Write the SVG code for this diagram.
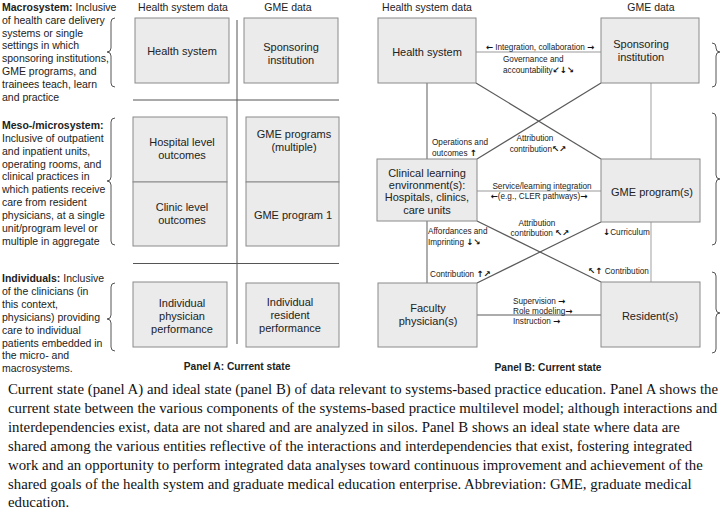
<svg xmlns="http://www.w3.org/2000/svg" width="726" height="515" viewBox="0 0 726 515">
<style>
text{font-family:"Liberation Sans",Arial,"DejaVu Sans",sans-serif;fill:#222}
.lt{font-size:10.5px}
.b{font-weight:bold}
.hd{font-size:10.5px;text-anchor:middle}
.bl{font-size:11px;text-anchor:middle}
.sm{font-size:8.2px;fill:#333}
.ar{font-family:"DejaVu Sans",sans-serif;font-weight:bold;font-size:8.6px;fill:#111}
.mid{text-anchor:middle}
.pl{font-size:10.2px;font-weight:bold;text-anchor:middle}
.cap{font-family:"Liberation Serif","Times New Roman",serif;font-size:14.8px;fill:#111}
.bx{fill:#ebebeb;stroke:#8a8a8a;stroke-width:1}
.dv{stroke:#555;stroke-width:1;fill:none}
.br{stroke:#555;stroke-width:1;fill:none}
.ln{stroke:#5a5a5a;stroke-width:1.2;fill:none}
.lv{stroke:#777;stroke-width:1.2;fill:none}
.lr{stroke:#b0b0b0;stroke-width:1.2;fill:none}
.lh{stroke:#999;stroke-width:1;fill:none}
</style>

<!-- Left descriptive text -->
<g id="left-text" class="lt">
<text x="2" y="11"><tspan class="b">Macrosystem:</tspan> Inclusive</text>
<text x="2" y="23.8">of health care delivery</text>
<text x="2" y="36.6">systems or single</text>
<text x="2" y="49.4">settings in which</text>
<text x="2" y="62.2">sponsoring institutions,</text>
<text x="2" y="75">GME programs, and</text>
<text x="2" y="87.8">trainees teach, learn</text>
<text x="2" y="100.6">and practice</text>

<text x="2" y="129"><tspan class="b">Meso-/microsystem:</tspan></text>
<text x="2" y="141.9">Inclusive of outpatient</text>
<text x="2" y="154.7">and inpatient units,</text>
<text x="2" y="167.6">operating rooms, and</text>
<text x="2" y="180.4">clinical practices in</text>
<text x="2" y="193.3">which patients receive</text>
<text x="2" y="206.1">care from resident</text>
<text x="2" y="219">physicians, at a single</text>
<text x="2" y="231.8">unit/program level or</text>
<text x="2" y="244.7">multiple in aggregate</text>

<text x="2" y="282.3"><tspan class="b">Individuals:</tspan> Inclusive</text>
<text x="2" y="295.2">of the clinicians (in</text>
<text x="2" y="308">this context,</text>
<text x="2" y="320.9">physicians) providing</text>
<text x="2" y="333.7">care to individual</text>
<text x="2" y="346.6">patients embedded in</text>
<text x="2" y="359.4">the micro- and</text>
<text x="2" y="372.3">macrosystems.</text>
</g>

<!-- Braces -->
<g id="braces">
<path class="br" d="M115,18 Q111,18 111,22 L111,48 Q111,52 107,52 Q111,52 111,56 L111,83 Q111,87 115,87"/>
<path class="br" d="M115,118 Q111,118 111,122 L111,177 Q111,181 107,181 Q111,181 111,185 L111,241 Q111,245 115,245"/>
<path class="br" d="M115,283 Q111,283 111,287 L111,315 Q111,319 107,319 Q111,319 111,323 L111,347 Q111,351 115,351"/>
<path class="br" d="M712,43 Q716,43 716,47 L716,48 Q716,52 720,52 Q716,52 716,56 L716,83 Q716,87 712,87"/>
<path class="br" d="M712,113 Q716,113 716,117 L716,175 Q716,179 720,179 Q716,179 716,183 L716,241 Q716,245 712,245"/>
<path class="br" d="M712,272 Q716,272 716,276 L716,309 Q716,313 720,313 Q716,313 716,317 L716,349 Q716,353 712,353"/>
</g>

<!-- Panel A -->
<g id="panelA-headers">
<text class="hd" x="183" y="11">Health system data</text>
<text class="hd" x="288" y="11">GME data</text>
</g>
<g id="panelA-dividers">
<line class="dv" x1="237" y1="20" x2="237" y2="344"/>
<line class="dv" x1="133" y1="100" x2="339" y2="100"/>
<line class="dv" x1="133" y1="263.5" x2="339" y2="263.5"/>
</g>
<g id="a-health-system">
<rect class="bx" x="135" y="18" width="94" height="65"/>
<text class="bl" x="182" y="55">Health system</text>
</g>
<g id="a-sponsoring">
<rect class="bx" x="244" y="18" width="94" height="65"/>
<text class="bl" x="291" y="50.5">Sponsoring</text>
<text class="bl" x="291" y="63.5">institution</text>
</g>
<g id="a-hospital-level">
<rect class="bx" x="133" y="117" width="94" height="65"/>
<text class="bl" x="182" y="146">Hospital level</text>
<text class="bl" x="182" y="158.8">outcomes</text>
</g>
<g id="a-clinic-level">
<rect class="bx" x="133" y="182" width="94" height="64"/>
<text class="bl" x="182" y="211">Clinic level</text>
<text class="bl" x="182" y="223.8">outcomes</text>
</g>
<g id="a-gme-programs">
<rect class="bx" x="246" y="117" width="93" height="65"/>
<text class="bl" x="294" y="138">GME programs</text>
<text class="bl" x="294" y="150.6">(multiple)</text>
</g>
<g id="a-gme-program-1">
<rect class="bx" x="246" y="182" width="93" height="64"/>
<text class="bl" x="293" y="219">GME program 1</text>
</g>
<g id="a-individual-physician">
<rect class="bx" x="133" y="282" width="94" height="65"/>
<text class="bl" x="182" y="307">Individual</text>
<text class="bl" x="182" y="319.8">physician</text>
<text class="bl" x="182" y="332.6">performance</text>
</g>
<g id="a-individual-resident">
<rect class="bx" x="246" y="283" width="93" height="64"/>
<text class="bl" x="290" y="306">Individual</text>
<text class="bl" x="290" y="318.8">resident</text>
<text class="bl" x="290" y="331.6">performance</text>
</g>
<text class="pl" x="237" y="370">Panel A: Current state</text>

<!-- Panel B -->
<g id="panelB-headers">
<text class="hd" x="427" y="11">Health system data</text>
<text class="hd" x="651" y="11">GME data</text>
</g>

<g id="connectors">
<line class="lh" x1="476" y1="52" x2="601" y2="52"/>
<line class="lh" x1="477" y1="191" x2="601" y2="191"/>
<line class="ln" x1="477" y1="315" x2="601" y2="315"/>
<line class="lv" x1="427" y1="83" x2="427" y2="159"/>
<line class="lv" x1="427" y1="221" x2="427" y2="283"/>
<line class="lr" x1="651" y1="83" x2="651" y2="159"/>
<line class="lr" x1="651" y1="222" x2="651" y2="282"/>
<line class="ln" x1="476" y1="83" x2="601" y2="159"/>
<line class="ln" x1="601" y1="83" x2="477" y2="159"/>
<line class="ln" x1="477" y1="221" x2="601" y2="282"/>
<line class="ln" x1="601" y1="222" x2="477" y2="283"/>
</g>

<g id="connector-labels" class="sm">
<text class="mid" x="540" y="50"><tspan class="ar">←</tspan> Integration, collaboration <tspan class="ar">→</tspan></text>
<text x="503" y="62">Governance and</text>
<text x="503" y="73">accountability<tspan class="ar">↙↓↘</tspan></text>
<text x="432" y="145">Operations and</text>
<text x="432" y="155.5">outcomes <tspan class="ar">↑</tspan></text>
<text class="mid" x="535" y="141">Attribution</text>
<text class="mid" x="538" y="151.5">contribution<tspan class="ar">↖↗</tspan></text>
<text class="mid" x="542" y="189">Service/learning integration</text>
<text class="mid" x="539" y="199"><tspan class="ar">←</tspan>(e.g., CLER pathways)<tspan class="ar">→</tspan></text>
<text class="mid" x="537" y="225.5">Attribution</text>
<text class="mid" x="540" y="235.5">contribution <tspan class="ar">↖↗</tspan></text>
<text x="428" y="234">Affordances and</text>
<text x="428" y="244.5">Imprinting <tspan class="ar">↓↘</tspan></text>
<text x="603" y="235"><tspan class="ar">↓</tspan>Curriculum</text>
<text x="430" y="277">Contribution <tspan class="ar">↑↗</tspan></text>
<text x="588" y="274"><tspan class="ar">↖↑</tspan> Contribution</text>
<text x="513" y="304">Supervision <tspan class="ar">→</tspan></text>
<text x="513" y="314">Role modeling<tspan class="ar">→</tspan></text>
<text x="513" y="324">Instruction <tspan class="ar">→</tspan></text>
</g>

<g id="b-health-system">
<rect class="bx" x="378" y="18" width="98" height="65"/>
<text class="bl" x="427" y="56">Health system</text>
</g>
<g id="b-sponsoring">
<rect class="bx" x="601" y="18" width="98" height="65"/>
<text class="bl" x="641" y="48">Sponsoring</text>
<text class="bl" x="641" y="60.5">institution</text>
</g>
<g id="b-clinical-learning">
<rect class="bx" x="377" y="159" width="100" height="62"/>
<text class="bl" x="427" y="176.5">Clinical learning</text>
<text class="bl" x="427" y="188.9">environment(s):</text>
<text class="bl" x="427" y="201.3">Hospitals, clinics,</text>
<text class="bl" x="427" y="213.7">care units</text>
</g>
<g id="b-gme-programs">
<rect class="bx" x="601" y="159" width="99" height="63"/>
<text class="bl" x="652" y="195.5">GME program(s)</text>
</g>
<g id="b-faculty">
<rect class="bx" x="378" y="283" width="99" height="64"/>
<text class="bl" x="428" y="312">Faculty</text>
<text class="bl" x="428" y="325">physician(s)</text>
</g>
<g id="b-residents">
<rect class="bx" x="601" y="282" width="99" height="65"/>
<text class="bl" x="650" y="319.5">Resident(s)</text>
</g>
<text class="pl" x="548" y="371">Panel B: Current state</text>

<!-- Caption -->
<g id="caption" class="cap">
<text class="cap" x="8" y="394">Current state (panel A) and ideal state (panel B) of data relevant to systems-based practice education. Panel A shows the</text>
<text class="cap" x="8" y="412.9">current state between the various components of the systems-based practice multilevel model; although interactions and</text>
<text class="cap" x="8" y="431.8">interdependencies exist, data are not shared and are analyzed in silos. Panel B shows an ideal state where data are</text>
<text class="cap" x="8" y="450.7">shared among the various entities reflective of the interactions and interdependencies that exist, fostering integrated</text>
<text class="cap" x="8" y="469.6">work and an opportunity to perform integrated data analyses toward continuous improvement and achievement of the</text>
<text class="cap" x="8" y="488.5">shared goals of the health system and graduate medical education enterprise. Abbreviation: GME, graduate medical</text>
<text class="cap" x="8" y="507.4">education.</text>
</g>
</svg>
